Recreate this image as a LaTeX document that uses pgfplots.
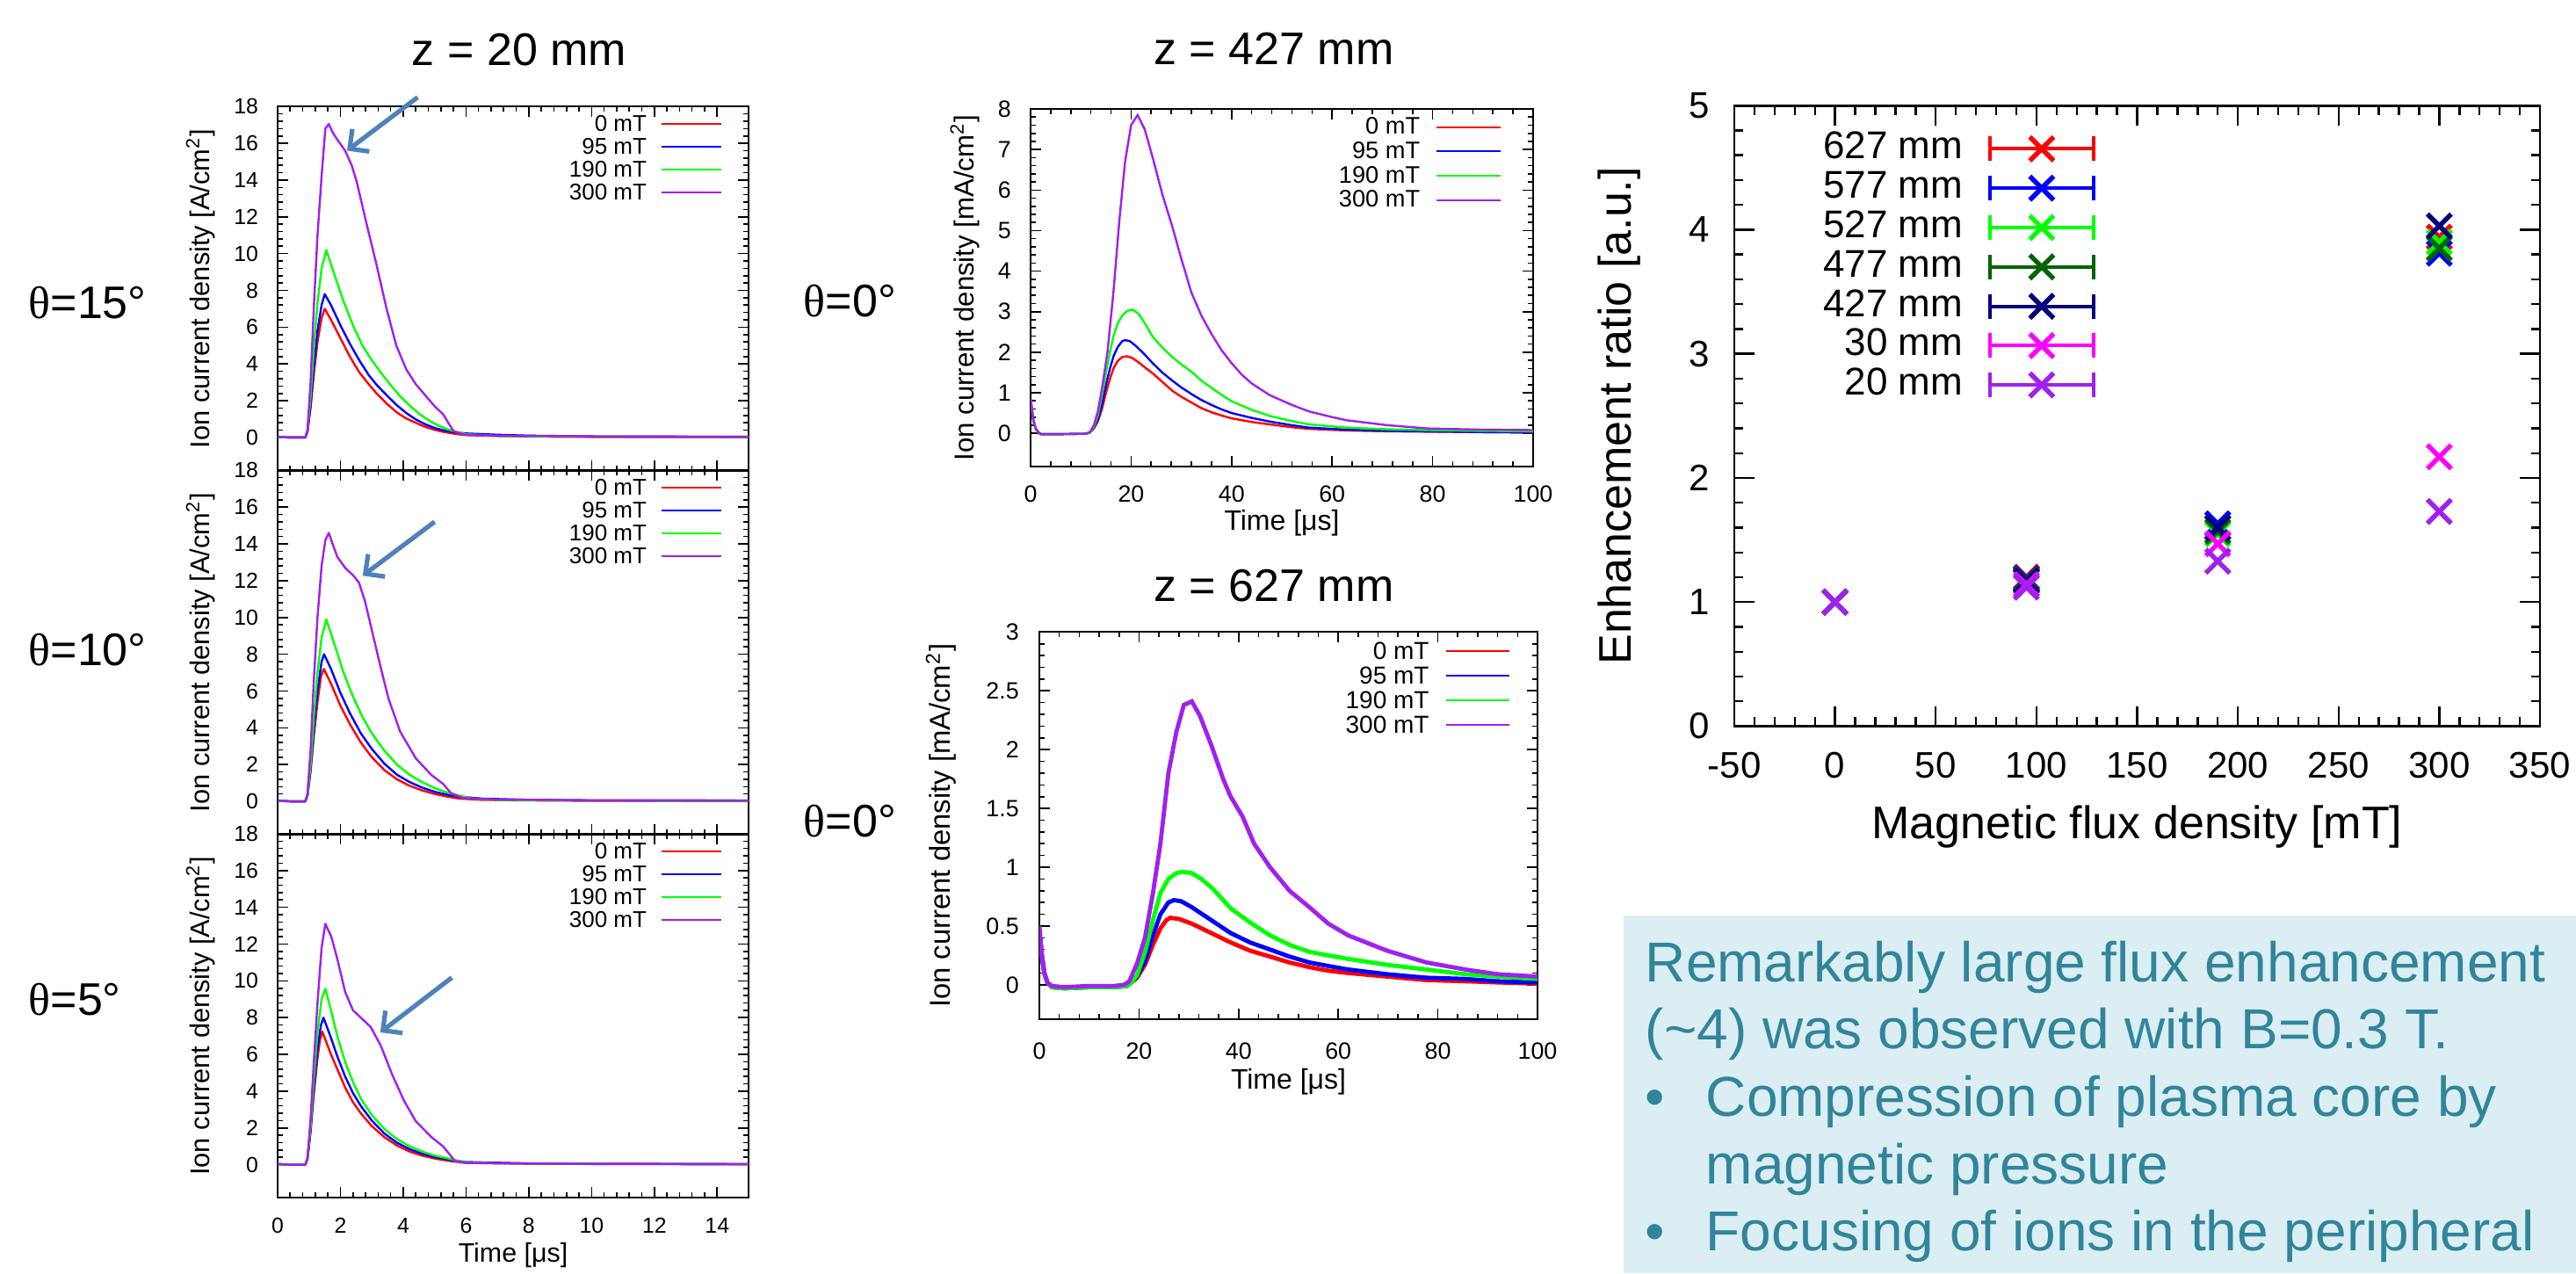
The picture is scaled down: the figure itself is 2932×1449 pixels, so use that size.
\documentclass[border=0pt]{standalone}
\usepackage{fontspec}
\setmainfont{Liberation Sans}
\newfontfamily\thetafont{Liberation Serif}
\usepackage{pgfplots}
\pgfplotsset{compat=1.18}
\usetikzlibrary{arrows.meta}

\definecolor{gred}{RGB}{255,0,0}
\definecolor{gblue}{RGB}{0,0,255}
\definecolor{ggreen}{RGB}{0,255,0}
\definecolor{gpurple}{RGB}{160,32,240}
\definecolor{gdkgreen}{RGB}{0,100,0}
\definecolor{gnavy}{RGB}{0,0,128}
\definecolor{gmagenta}{RGB}{255,0,255}
\definecolor{arrowblue}{RGB}{79,129,189}
\definecolor{boxbg}{RGB}{219,238,243}
\definecolor{boxtext}{RGB}{49,133,155}

\newcommand{\fs}[1]{\fontsize{#1}{#1}\selectfont}

\pgfplotsset{
  base/.style={
    scale only axis,
    axis line style={line width=0.5pt},
    tick align=inside, major tick length=3pt, minor tick length=1.5pt,
    every tick/.append style={black, line width=0.4pt},
    /pgf/number format/assume math mode=true,
    legend plot pos=right, legend cell align=right,
  },
  tr/.style={line width=0.6pt, line join=round},
  leftp/.style={base, width=134pt, height=103.6pt,
    xmin=0, xmax=15, ymin=-1.8, ymax=18,
    xtick={0,2,...,14}, ytick={0,2,...,18},
    minor x tick num=4, minor y tick num=4,
    tick label style={font=\fs{6.2}},
    xticklabel style={yshift=-2.2pt}, yticklabel style={xshift=-2pt},
    ylabel={Ion current density [A/cm\textsuperscript{2}]},
    ylabel style={font=\fs{7.7}, at={(axis description cs:-0.164,0.5)}, anchor=center},
    xlabel style={font=\fs{7.6}, at={(axis description cs:0.5,-0.158)}, anchor=center},
    legend style={at={(0.944,0.983)}, anchor=north east, draw=none, fill=none,
      inner sep=0pt, outer sep=0pt, column sep=3.5pt, font=\fs{6.5}, row sep=0pt,
      nodes={inner sep=0.5pt, text height=4.8pt, text depth=0.7pt}},
    legend image code/.code={\draw[##1, line width=0.5pt] (0pt,0pt) -- (17pt,0pt);},
  },
  midp/.style={base, xmin=0, xmax=100, xtick={0,20,...,100}, minor x tick num=4,
    tick label style={font=\fs{6.7}},
    xlabel={Time [μs]},
    ylabel={Ion current density [mA/cm\textsuperscript{2}]},
    legend style={draw=none, fill=none, inner sep=0pt, outer sep=0pt,
      column sep=4pt, font=\fs{6.8}, row sep=0pt,
      nodes={inner sep=0.5pt, text height=5pt, text depth=0.9pt}},
    legend image code/.code={\draw[##1, line width=0.5pt] (0pt,0pt) -- (18.2pt,0pt);},
  },
}

\begin{document}
\begin{tikzpicture}
\begin{scope}[x=0.25pt,y=-0.25pt]
\path[use as bounding box] (0,0) rectangle (2932,1449);
\fill[boxbg] (1848,1042) rectangle (2932,1449);
\node[anchor=base, font=\fs{13}, inner sep=0pt] at (591,74) {z = 20 mm};
\node[anchor=base, font=\fs{13}, inner sep=0pt] at (1450,73.5) {z = 427 mm};
\node[anchor=base, font=\fs{13}, inner sep=0pt] at (1450,684) {z = 627 mm};
\node[anchor=base west, font=\fs{13}, inner sep=0pt] at (32,362) {{\thetafont θ}=15°};
\node[anchor=base west, font=\fs{13}, inner sep=0pt] at (32,757) {{\thetafont θ}=10°};
\node[anchor=base west, font=\fs{13}, inner sep=0pt] at (32,1155) {{\thetafont θ}=5°};
\node[anchor=base west, font=\fs{13}, inner sep=0pt] at (914,360) {{\thetafont θ}=0°};
\node[anchor=base west, font=\fs{13}, inner sep=0pt] at (914,952) {{\thetafont θ}=0°};
\begin{scope}[every node/.style={anchor=base west, inner sep=0pt, text=boxtext, font=\fs{16}}]
\node at (1872,1117) {Remarkably large flux enhancement};
\node at (1872,1193) {(\textasciitilde 4) was observed with B=0.3 T.};
\node at (1872,1270) {\textbullet};
\node at (1941,1270) {Compression of plasma core by};
\node at (1941,1347) {magnetic pressure};
\node at (1872,1423) {\textbullet};
\node at (1941,1423) {Focusing of ions in the peripheral};
\end{scope}
\end{scope}

% ---------- Left panel 1 : theta = 15 deg ----------
\begin{axis}[leftp, at={(79pt,-133.9pt)}, anchor=south west, xticklabels={}, clip=false]
\addplot[gred, tr] coordinates {(0,0.03) (0.4,0) (0.88,0) (0.95,0.3) (1.05,1.6) (1.15,3.4) (1.27,5.2) (1.4,6.5) (1.5,7.0) (1.7,6.4) (2.0,5.4) (2.3,4.4) (2.6,3.55) (2.9,2.9) (3.15,2.4) (3.5,1.8) (3.8,1.36) (4.1,1.03) (4.4,0.8) (4.7,0.58) (5.0,0.42) (5.3,0.3) (5.65,0.2) (6.0,0.13) (7,0.08) (8,0.05) (10,0.03) (12,0.02) (15,0.02)};
\addplot[gblue, tr] coordinates {(0,0.03) (0.4,0) (0.88,0) (0.95,0.3) (1.05,1.8) (1.15,3.8) (1.27,5.8) (1.4,7.2) (1.5,7.8) (1.7,7.2) (2.0,6.1) (2.3,5.1) (2.6,4.2) (2.9,3.4) (3.15,2.87) (3.5,2.25) (3.8,1.75) (4.1,1.33) (4.4,0.98) (4.7,0.72) (5.0,0.52) (5.3,0.38) (5.65,0.28) (6.0,0.22) (7,0.15) (8,0.1) (10,0.06) (12,0.05) (15,0.04)};
\addplot[ggreen, tr] coordinates {(0,0.03) (0.4,0) (0.88,0) (0.95,0.35) (1.05,2.2) (1.15,4.8) (1.27,7.3) (1.4,9.2) (1.55,10.2) (1.8,8.9) (2.1,7.4) (2.4,6.1) (2.7,5.0) (3.0,4.2) (3.3,3.5) (3.6,2.85) (3.9,2.25) (4.2,1.75) (4.5,1.3) (4.8,0.95) (5.1,0.66) (5.4,0.45) (5.7,0.3) (6.0,0.18) (7,0.08) (10,0.04) (15,0.03)};
\addplot[gpurple, tr] coordinates {(0,0.05) (0.4,0) (0.88,0) (0.95,0.4) (1.05,3.0) (1.15,7.0) (1.27,11.0) (1.4,14.2) (1.52,16.8) (1.63,17.05) (1.75,16.6) (1.9,16.2) (2.15,15.6) (2.36,14.8) (2.52,13.9) (2.85,11.5) (3.15,9.4) (3.47,7.0) (3.78,5.0) (4.1,3.7) (4.4,2.9) (4.7,2.3) (5.0,1.7) (5.27,1.27) (5.4,0.9) (5.6,0.35) (5.95,0.15) (7,0.1) (10,0.06) (15,0.04)};
\legend{0 mT, 95 mT, 190 mT, 300 mT}
\draw[arrowblue, line width=1.3pt, -{Straight Barb[length=4pt,width=8pt]}] (axis cs:4.46,18.5) -- (axis cs:2.21,15.6);
\end{axis}

% ---------- Left panel 2 : theta = 10 deg ----------
\begin{axis}[leftp, at={(79pt,-237.425pt)}, anchor=south west, xticklabels={}]
\addplot[gred, tr] coordinates {(0,0.03) (0.4,0) (0.88,0) (0.95,0.3) (1.05,1.6) (1.15,3.5) (1.27,5.4) (1.38,6.8) (1.47,7.2) (1.7,6.4) (2.0,5.2) (2.3,4.2) (2.65,3.2) (3.0,2.4) (3.4,1.7) (3.8,1.2) (4.2,0.85) (4.6,0.6) (5.0,0.4) (5.4,0.26) (5.8,0.15) (6.5,0.08) (8,0.05) (10,0.03) (15,0.02)};
\addplot[gblue, tr] coordinates {(0,0.03) (0.4,0) (0.88,0) (0.95,0.3) (1.05,1.8) (1.15,3.9) (1.27,6.0) (1.4,7.6) (1.48,8.0) (1.7,7.2) (2.0,5.9) (2.3,4.8) (2.65,3.7) (3.0,2.85) (3.4,2.05) (3.8,1.45) (4.2,1.05) (4.6,0.75) (5.0,0.52) (5.4,0.36) (5.8,0.25) (6.5,0.15) (8,0.08) (10,0.05) (15,0.04)};
\addplot[ggreen, tr] coordinates {(0,0.03) (0.4,0) (0.88,0) (0.95,0.3) (1.05,2.0) (1.15,4.5) (1.27,7.0) (1.4,8.9) (1.55,9.9) (1.8,8.6) (2.1,7.0) (2.4,5.7) (2.7,4.6) (3.0,3.7) (3.4,2.75) (3.8,2.0) (4.2,1.45) (4.6,1.05) (5.0,0.72) (5.4,0.48) (5.8,0.3) (6.2,0.15) (7,0.08) (10,0.04) (15,0.03)};
\addplot[gpurple, tr] coordinates {(0,0.05) (0.4,0) (0.88,0) (0.95,0.4) (1.05,2.8) (1.15,6.5) (1.27,10.0) (1.4,12.8) (1.52,14.2) (1.63,14.6) (1.75,14.0) (1.9,13.3) (2.15,12.7) (2.4,12.3) (2.59,11.9) (2.78,10.9) (3.03,9.1) (3.28,7.3) (3.53,5.6) (3.9,3.8) (4.4,2.34) (4.9,1.43) (5.27,0.95) (5.52,0.45) (5.9,0.18) (7,0.1) (10,0.06) (15,0.05)};
\legend{0 mT, 95 mT, 190 mT, 300 mT}
\draw[arrowblue, line width=1.3pt, -{Straight Barb[length=4pt,width=8pt]}] (axis cs:5.0,15.2) -- (axis cs:2.71,12.27);
\end{axis}

% ---------- Left panel 3 : theta = 5 deg ----------
\begin{axis}[leftp, at={(79pt,-340.825pt)}, anchor=south west, xlabel={Time [μs]}]
\addplot[gred, tr] coordinates {(0,0.03) (0.4,0) (0.88,0) (0.95,0.3) (1.05,1.8) (1.15,3.8) (1.27,5.8) (1.35,6.8) (1.42,7.25) (1.7,6.0) (1.9,5.2) (2.15,4.2) (2.4,3.4) (2.65,2.8) (3.0,2.1) (3.4,1.5) (3.8,1.05) (4.2,0.72) (4.6,0.5) (5.0,0.34) (5.5,0.2) (6.0,0.1) (8,0.05) (15,0.02)};
\addplot[gblue, tr] coordinates {(0,0.03) (0.4,0) (0.88,0) (0.95,0.3) (1.05,1.9) (1.15,4.1) (1.27,6.3) (1.38,7.6) (1.46,8.0) (1.7,6.9) (1.9,5.9) (2.15,4.8) (2.4,3.9) (2.65,3.2) (3.0,2.4) (3.4,1.7) (3.8,1.2) (4.2,0.85) (4.6,0.6) (5.0,0.42) (5.5,0.26) (6.0,0.15) (8,0.07) (15,0.03)};
\addplot[ggreen, tr] coordinates {(0,0.03) (0.4,0) (0.88,0) (0.95,0.3) (1.05,2.1) (1.15,4.6) (1.27,7.2) (1.4,9.0) (1.52,9.57) (1.7,8.4) (1.9,7.0) (2.15,5.6) (2.4,4.5) (2.65,3.6) (3.0,2.7) (3.4,1.95) (3.8,1.4) (4.2,1.0) (4.6,0.72) (5.0,0.5) (5.5,0.32) (5.9,0.15) (7,0.07) (15,0.03)};
\addplot[gpurple, tr] coordinates {(0,0.05) (0.4,0) (0.88,0) (0.95,0.35) (1.05,2.5) (1.15,5.5) (1.27,8.8) (1.4,11.8) (1.52,13.1) (1.71,12.4) (1.9,11.2) (2.15,9.4) (2.4,8.4) (2.65,8.0) (2.96,7.5) (3.28,6.5) (3.65,4.9) (4.02,3.5) (4.4,2.37) (4.9,1.5) (5.27,1.0) (5.46,0.6) (5.65,0.2) (6.0,0.1) (10,0.05) (15,0.04)};
\legend{0 mT, 95 mT, 190 mT, 300 mT}
\draw[arrowblue, line width=1.3pt, -{Straight Barb[length=4pt,width=8pt]}] (axis cs:5.55,10.18) -- (axis cs:3.27,7.2);
\end{axis}

% ---------- Middle top : z = 427 mm ----------
\begin{axis}[midp, at={(293.25pt,-132.75pt)}, anchor=south west, width=143pt, height=101.75pt,
  ymin=-0.82, ymax=8, ytick={0,1,...,8}, minor y tick num=4,
  xticklabel style={yshift=-2pt}, yticklabel style={xshift=-2pt},
  xlabel style={font=\fs{8}, at={(axis description cs:0.5,-0.158)}, anchor=center},
  ylabel style={font=\fs{7.8}, at={(axis description cs:-0.131,0.5)}, anchor=center},
  legend style={at={(0.937,0.983)}, anchor=north east}]
\addplot[gred, line width=0.6pt] coordinates {(0,0.85) (0.5,0.35) (1,0.12) (1.5,0.03) (2,-0.02) (6,-0.02) (11,-0.01) (11.8,0.02) (12.6,0.12) (13.4,0.3) (14.2,0.6) (15,1.0) (15.8,1.35) (16.5,1.6) (17.3,1.78) (18.2,1.88) (19.2,1.9) (20.2,1.86) (21.5,1.75) (22.8,1.62) (24.3,1.48) (26.2,1.27) (28.2,1.05) (30,0.9) (32,0.76) (34,0.62) (36,0.52) (38,0.44) (40,0.37) (44,0.28) (47.6,0.22) (52,0.15) (55.4,0.11) (63,0.07) (71,0.05) (79,0.04) (90,0.03) (100,0.02)};
\addplot[gblue, line width=0.6pt] coordinates {(0,0.85) (0.5,0.35) (1,0.12) (1.5,0.03) (2,-0.02) (6,-0.02) (11,-0.01) (11.8,0.02) (12.6,0.14) (13.4,0.35) (14.2,0.7) (15,1.2) (15.8,1.6) (16.5,1.9) (17.3,2.12) (18.2,2.27) (18.8,2.3) (19.8,2.27) (21,2.15) (22.5,1.97) (24.3,1.73) (26.2,1.5) (28.2,1.3) (30,1.13) (32,0.97) (34,0.82) (36,0.7) (38,0.59) (40,0.5) (44,0.38) (47.6,0.29) (52,0.2) (55.4,0.14) (63,0.09) (71,0.06) (79,0.05) (90,0.03) (100,0.02)};
\addplot[ggreen, line width=0.6pt] coordinates {(0,0.85) (0.5,0.35) (1,0.12) (1.5,0.03) (2,-0.02) (6,-0.02) (11,-0.01) (11.8,0.02) (12.6,0.16) (13.4,0.45) (14.2,0.95) (15,1.5) (15.8,2.0) (16.5,2.4) (17.3,2.7) (18.2,2.9) (19.2,3.02) (20.3,3.05) (21.5,2.95) (22.8,2.7) (24.3,2.38) (26.2,2.12) (28.2,1.88) (30,1.7) (32,1.52) (34,1.3) (36,1.12) (38,0.95) (40,0.79) (44,0.58) (47.6,0.43) (52,0.3) (55.4,0.22) (63,0.14) (71,0.1) (79,0.08) (90,0.06) (100,0.05)};
\addplot[gpurple, line width=0.6pt] coordinates {(0,0.85) (0.5,0.35) (1,0.12) (1.5,0.03) (2,-0.02) (6,-0.02) (11,-0.01) (11.8,0.03) (12.6,0.2) (13.4,0.55) (14.2,1.1) (15.3,2.0) (16.5,3.5) (17.7,5.3) (18.8,6.7) (20,7.6) (21.3,7.85) (22.7,7.5) (24.3,6.8) (26.2,5.9) (28.2,5.1) (30,4.3) (32,3.47) (34,2.9) (36,2.45) (38,2.05) (40,1.73) (42,1.45) (44,1.23) (47.6,0.94) (52,0.7) (55.4,0.54) (60,0.4) (63,0.32) (71,0.2) (79,0.12) (90,0.09) (100,0.08)};
\legend{0 mT, 95 mT, 190 mT, 300 mT}
\end{axis}

% ---------- Middle bottom : z = 627 mm ----------
\begin{axis}[midp, at={(295.75pt,-290.075pt)}, anchor=south west, width=141.75pt, height=110.25pt,
  ymin=-0.295, ymax=3, ytick={0,0.5,1,1.5,2,2.5,3}, minor y tick num=4,
  xticklabel style={yshift=-3pt}, yticklabel style={xshift=-2.3pt},
  xlabel style={font=\fs{8}, at={(axis description cs:0.5,-0.16)}, anchor=center},
  ylabel style={font=\fs{8.2}, at={(axis description cs:-0.1975,0.5)}, anchor=center},
  legend style={at={(0.946,0.983)}, anchor=north east, font=\fs{7}, nodes={text height=5.3pt, text depth=0.7pt}}]
\addplot[gred, line width=1.2pt] coordinates {(0,0.45) (0.5,0.25) (1,0.1) (1.6,0.02) (2.5,-0.02) (5,-0.03) (10,-0.02) (15,-0.02) (17.5,-0.01) (18.5,0.02) (19.6,0.06) (21.2,0.17) (22.8,0.34) (24.3,0.48) (25.5,0.55) (26.3,0.57) (28,0.56) (30.6,0.52) (34.5,0.44) (38.4,0.36) (42.3,0.29) (46.3,0.24) (50.2,0.19) (54.2,0.15) (58,0.12) (62,0.1) (69.8,0.07) (77.7,0.04) (85.5,0.03) (92,0.02) (100,0.01)};
\addplot[gblue, line width=1.2pt] coordinates {(0,0.45) (0.5,0.25) (1,0.1) (1.6,0.02) (2.5,-0.02) (5,-0.03) (10,-0.02) (15,-0.02) (17.5,-0.01) (18.5,0.02) (19.6,0.07) (21.2,0.2) (22.8,0.42) (24.3,0.6) (25.9,0.7) (27,0.72) (28.5,0.71) (30.6,0.66) (34.5,0.55) (38.4,0.44) (42.3,0.36) (46.3,0.3) (50.2,0.24) (54.2,0.19) (58,0.16) (62,0.13) (69.8,0.09) (77.7,0.06) (85.5,0.05) (92,0.03) (100,0.02)};
\addplot[ggreen, line width=1.2pt] coordinates {(0,0.45) (0.5,0.25) (1,0.1) (1.6,0.02) (2.5,-0.02) (5,-0.03) (10,-0.02) (15,-0.02) (17.5,-0.01) (18.5,0.02) (19.6,0.08) (21.2,0.28) (22.8,0.55) (24.3,0.78) (25.9,0.9) (27.5,0.95) (28.7,0.96) (30.6,0.95) (32.5,0.9) (34.5,0.83) (36.5,0.74) (38.4,0.65) (42.3,0.53) (46.3,0.42) (50.2,0.34) (54.2,0.28) (58,0.25) (62,0.22) (69.8,0.17) (77.7,0.13) (85.5,0.09) (92,0.07) (100,0.05)};
\addplot[gpurple, line width=1.2pt] coordinates {(0,0.5) (0.5,0.25) (1,0.1) (1.6,0.02) (2.5,-0.01) (5,-0.02) (10,-0.01) (15,-0.01) (17,0) (18.05,0.03) (19.6,0.18) (21.2,0.4) (22.8,0.78) (24.3,1.2) (25.9,1.8) (27.5,2.15) (29,2.38) (30.6,2.41) (32.2,2.29) (34.5,2.04) (36.9,1.75) (38.4,1.6) (40.8,1.43) (43.1,1.2) (46.3,1.0) (50.2,0.8) (54.2,0.66) (58,0.52) (62,0.42) (69.8,0.29) (77.7,0.19) (85.5,0.13) (92,0.09) (100,0.07)};
\legend{0 mT, 95 mT, 190 mT, 300 mT}
\end{axis}

% ---------- Right : enhancement ratio ----------
\begin{axis}[base, at={(493.5pt,-206.625pt)}, anchor=south west, width=229.25pt, height=176.6pt,
  xmin=-50, xmax=350, ymin=0, ymax=5,
  xtick={-50,0,...,350}, ytick={0,1,...,5}, minor x tick num=4, minor y tick num=4,
  major tick length=5.7pt, minor tick length=2.6pt,
  axis line style={line width=0.7pt}, every tick/.append style={line width=0.6pt},
  tick label style={font=\fs{10.5}},
  xticklabel style={yshift=-4pt}, yticklabel style={xshift=-3.5pt},
  xlabel={Magnetic flux density [mT]}, ylabel={Enhancement ratio [a.u.]},
  xlabel style={font=\fs{13}, at={(axis description cs:0.5,-0.162)}, anchor=center},
  ylabel style={font=\fs{13}, at={(axis description cs:-0.143,0.5)}, anchor=center},
  legend style={at={(0.45,0.962)}, anchor=north east, draw=none, fill=none,
    inner sep=0pt, outer sep=0pt, column sep=6.2pt, font=\fs{11}, row sep=0pt,
    nodes={inner sep=0.5pt, text height=8pt, text depth=2.2pt}},
  legend image code/.code={%
    \draw[#1, mark=none, line width=1pt, |-|] (0pt,0pt) -- (30.4pt,0pt);
    \draw[#1] plot coordinates {(15.2pt,0pt)};},
  mk/.style={mark=x, mark size=4.8pt, mark options={line width=1.35pt}},
]
\addlegendimage{gred, mk}\addlegendentry{627 mm}
\addlegendimage{gblue, mk}\addlegendentry{577 mm}
\addlegendimage{ggreen, mk}\addlegendentry{527 mm}
\addlegendimage{gdkgreen, mk}\addlegendentry{477 mm}
\addlegendimage{gnavy, mk}\addlegendentry{427 mm}
\addlegendimage{gmagenta, mk}\addlegendentry{30 mm}
\addlegendimage{gpurple, mk}\addlegendentry{20 mm}
\addplot[gred, only marks, mk, forget plot] coordinates {(0,1) (95,1.2) (190,1.6) (300,3.94)};
\addplot[gblue, only marks, mk, forget plot] coordinates {(0,1) (95,1.19) (190,1.63) (300,3.81)};
\addplot[ggreen, only marks, mk, forget plot] coordinates {(0,1) (95,1.16) (190,1.55) (300,3.9)};
\addplot[gdkgreen, only marks, mk, forget plot] coordinates {(0,1) (95,1.18) (190,1.57) (300,3.85)};
\addplot[gnavy, only marks, mk, forget plot] coordinates {(0,1) (95,1.17) (190,1.6) (300,4.03)};
\addplot[gmagenta, only marks, mk, forget plot] coordinates {(0,1) (95,1.14) (190,1.47) (300,2.17)};
\addplot[gpurple, only marks, mk, forget plot] coordinates {(0,1) (95,1.12) (190,1.33) (300,1.73)};
\end{axis}
\pgfresetboundingbox
\path[use as bounding box] (0pt,0pt) rectangle (733pt,-362.25pt);
\end{tikzpicture}
\end{document}
